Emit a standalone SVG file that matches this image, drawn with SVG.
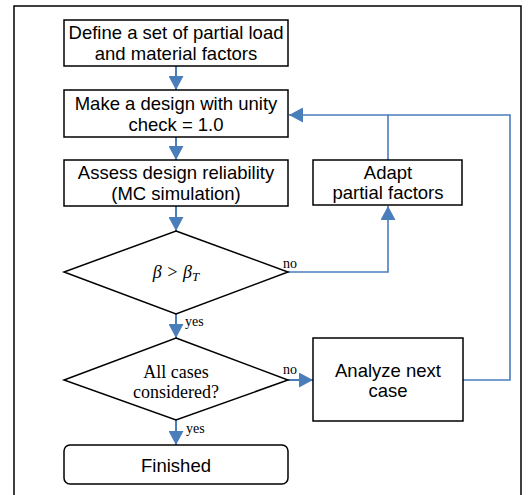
<svg xmlns="http://www.w3.org/2000/svg" width="529" height="495" viewBox="0 0 529 495">
<style>
.box{fill:#fff;stroke:#000;stroke-width:1.5}
.t{font-family:"Liberation Sans",Arial,sans-serif;font-size:18.5px;text-anchor:middle;fill:#000}
.s{font-family:"Liberation Serif","Times New Roman",serif;font-size:18px;text-anchor:middle;fill:#000}
.l{font-family:"Liberation Serif","Times New Roman",serif;font-size:14px;fill:#000}
.c{fill:none;stroke:#4a7ebb;stroke-width:2}
.c2{fill:none;stroke:#4a7ebb;stroke-width:1.6}
</style>
<defs>
<marker id="ah" viewBox="0 0 10 10" refX="10" refY="5" markerWidth="14" markerHeight="15" markerUnits="userSpaceOnUse" orient="auto" preserveAspectRatio="none">
<path d="M0,0 L10,5 L0,10 Z" fill="#4a7ebb"/>
</marker>
</defs>
<rect x="14" y="6" width="507" height="495" fill="#fff" stroke="#000" stroke-width="1.5"/>
<g id="connectors">
<line class="c" x1="176" y1="66" x2="176" y2="90" marker-end="url(#ah)"/>
<line class="c" x1="176" y1="137" x2="176" y2="160" marker-end="url(#ah)"/>
<line class="c" x1="176" y1="206" x2="176" y2="231" marker-end="url(#ah)"/>
<line class="c" x1="176" y1="314" x2="176" y2="338" marker-end="url(#ah)"/>
<line class="c" x1="176" y1="420" x2="176" y2="445" marker-end="url(#ah)"/>
<line class="c" x1="288" y1="380" x2="313" y2="380" marker-end="url(#ah)"/>
<polyline class="c2" points="288,272 388,272 388,206" marker-end="url(#ah)"/>
<polyline class="c2" points="388,160 388,115 289,115" marker-end="url(#ah)"/>
<polyline class="c2" points="463,380 510,380 510,115 388,115"/>
</g>
<g id="n1"><rect class="box" x="64" y="20" width="224" height="46"/>
<text class="t" x="176" y="39">Define a set of partial load</text>
<text class="t" x="176" y="60">and material factors</text></g>
<g id="n2"><rect class="box" x="64" y="90" width="224" height="47"/>
<text class="t" x="176" y="110">Make a design with unity</text>
<text class="t" x="176" y="131">check = 1.0</text></g>
<g id="n3"><rect class="box" x="64" y="160" width="224" height="46"/>
<text class="t" x="176" y="179">Assess design reliability</text>
<text class="t" x="176" y="200">(MC simulation)</text></g>
<g id="n4"><rect class="box" x="313" y="160" width="149" height="45"/>
<text class="t" x="388" y="179">Adapt</text>
<text class="t" x="388" y="199">partial factors</text></g>
<g id="d1"><polygon class="box" points="176,231 288,272 176,314 64,272"/>
<text class="s" x="176" y="278" font-size="19" font-style="italic">β &gt; β<tspan font-size="13" dy="3">T</tspan></text>
<text class="l" x="283" y="268">no</text>
<text class="l" x="185" y="326">yes</text></g>
<g id="d2"><polygon class="box" points="176,338 288,380 176,420 64,380"/>
<text class="s" x="176" y="378">All cases</text>
<text class="s" x="176" y="398">considered?</text>
<text class="l" x="283" y="374">no</text>
<text class="l" x="186" y="433">yes</text></g>
<g id="n5"><rect class="box" x="313" y="338" width="150" height="83"/>
<text class="t" x="388" y="377">Analyze next</text>
<text class="t" x="388" y="397">case</text></g>
<g id="n6"><rect class="box" x="64" y="445" width="224" height="39" rx="6"/>
<text class="t" x="176" y="472">Finished</text></g>
</svg>
